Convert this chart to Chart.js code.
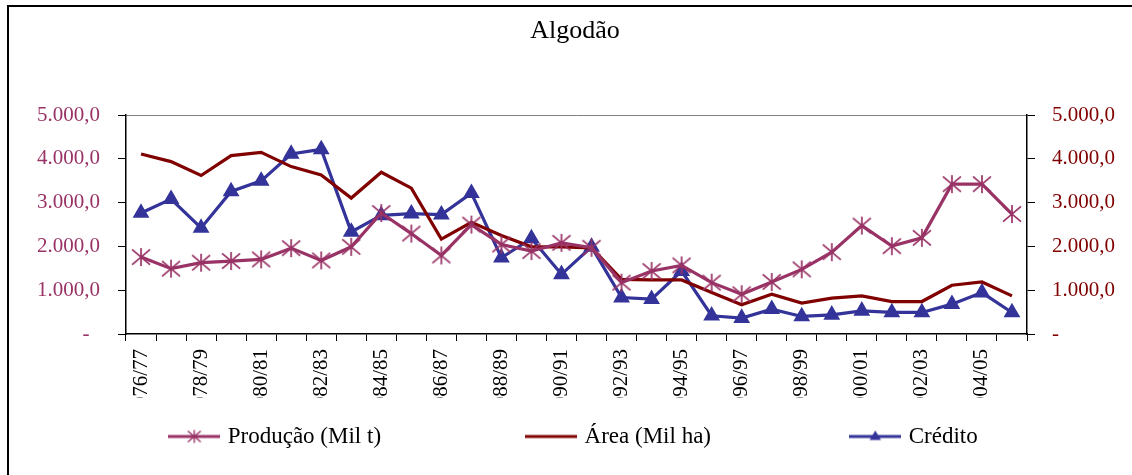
<!DOCTYPE html>
<html>
<head>
<meta charset="utf-8">
<title>Algodão</title>
<script src="https://cdn.jsdelivr.net/npm/chart.js@4.4.1/dist/chart.umd.min.js"></script>
<style>
  html, body { margin: 0; padding: 0; background: #fff; }
  #wrap { position: relative; width: 1132px; height: 475px; }
  #frame { position: absolute; left: 7px; top: 5px; right: 0; bottom: 0;
           border-left: 2px solid #000; border-top: 2px solid #000; pointer-events: none; }
</style>
</head>
<body>
<div id="wrap">
  <canvas id="chart" width="1132" height="475"></canvas>
  <div id="frame"></div>
</div>
<script>
// safras 1976/77 .. 2005/06
const safras = ['1976/77', '1977/78', '1978/79', '1979/80', '1980/81', '1981/82', '1982/83', '1983/84',
    '1984/85', '1985/86', '1986/87', '1987/88', '1988/89', '1989/90', '1990/91', '1991/92', '1992/93',
    '1993/94', '1994/95', '1995/96', '1996/97', '1997/98', '1998/99', '1999/00', '2000/01', '2001/02',
    '2002/03', '2003/04', '2004/05', '2005/06'];

const producao = [1757, 1493, 1629, 1667, 1705, 1962, 1682, 1992, 2765, 2295, 1795, 2500, 2045, 1894, 2083,
    1970, 1174, 1439, 1568, 1174, 909, 1189, 1477, 1871, 2477, 2008, 2197, 3424, 3424, 2742];
const area = [4114, 3939, 3621, 4076, 4151, 3826, 3636, 3106, 3697, 3333, 2170, 2553, 2250, 1992, 1992,
    1970, 1250, 1235, 1235, 947, 667, 909, 705, 818, 871, 742, 742, 1114, 1189, 871];
const credito = [2765, 3083, 2424, 3258, 3500, 4114, 4220, 2333, 2712, 2750, 2727, 3220, 1742, 2182, 1364,
    1992, 833, 795, 1439, 417, 364, 568, 401, 439, 530, 492, 492, 682, 947, 492];

const yTicks = [0, 1000, 2000, 3000, 4000, 5000];

const corProd = '#993366';
const corArea = '#800000';
const corCred = '#333399';
const serif = '"Liberation Serif", "Times New Roman", serif';

Chart.defaults.font.family = serif;
Chart.defaults.color = '#000';

// 5000 -> "5.000,0", 0 -> "-"
function fmt(v, left) {
    if (v === 0) return left ? '-  ' : '-';
    return v.toFixed(1).replace('.', ',').replace(/\B(?=(\d{3})+(?!\d))/g, '.');
}

function drawStar(g, cx, cy, r, color, lw) {
    g.strokeStyle = color;
    g.lineWidth = lw;
    g.beginPath();
    g.moveTo(cx - r, cy - r * 0.85); g.lineTo(cx + r, cy + r * 0.85);
    g.moveTo(cx + r, cy - r * 0.85); g.lineTo(cx - r, cy + r * 0.85);
    g.moveTo(cx, cy - r); g.lineTo(cx, cy + r);
    g.stroke();
}

function drawTri(g, cx, cy, r, color) {
    g.fillStyle = color;
    g.beginPath();
    g.moveTo(cx, cy - r);
    g.lineTo(cx + r * 0.95, cy + r * 0.6);
    g.lineTo(cx - r * 0.95, cy + r * 0.6);
    g.closePath();
    g.fill();
}

// asterisco do Excel (X + traço vertical)
const starPoint = document.createElement('canvas');
starPoint.width = starPoint.height = 22;
drawStar(starPoint.getContext('2d'), 11, 11, 9, corProd, 1.7);

function legendIcon(color, marker) {
    const c = document.createElement('canvas');
    c.width = 52; c.height = 22;
    const g = c.getContext('2d');
    g.strokeStyle = color;
    g.lineWidth = 3;
    g.beginPath(); g.moveTo(0, 11); g.lineTo(52, 11); g.stroke();
    if (marker === 'star') drawStar(g, 26, 11, 6.5, color, 1.4);
    if (marker === 'tri') drawTri(g, 26, 11, 6, color);
    return c;
}
const icons = [legendIcon(corProd, 'star'), legendIcon(corArea), legendIcon(corCred, 'tri')];
const gaps = [' '.repeat(24), ' '.repeat(23), ''];

// corta os rótulos do eixo x como no original
const cutLabels = {
    id: 'cutLabels',
    beforeDatasetsDraw(chart) {
        const x = chart.scales.x, ctx = chart.ctx;
        const y0 = x.top + 64;
        ctx.save();
        ctx.fillStyle = '#fff';
        ctx.fillRect(0, y0, chart.width, chart.legend.top - y0);
        ctx.restore();
    }
};

new Chart(document.getElementById('chart'), {
    type: 'line',
    data: {
        labels: safras,
        datasets: [
            {
                label: 'Produção (Mil t)',
                data: producao,
                borderColor: corProd,
                backgroundColor: corProd,
                borderWidth: 3.2,
                pointStyle: starPoint,
                yAxisID: 'y'
            },
            {
                label: 'Área (Mil ha)',
                data: area,
                borderColor: corArea,
                backgroundColor: corArea,
                borderWidth: 3.2,
                pointRadius: 0,
                yAxisID: 'y1'
            },
            {
                label: 'Crédito',
                data: credito,
                borderColor: corCred,
                backgroundColor: corCred,
                borderWidth: 3.2,
                pointStyle: 'triangle',
                pointRadius: 6.5,
                yAxisID: 'y'
            }
        ]
    },
    options: {
        responsive: false,
        animation: false,
        events: [],
        layout: { padding: { left: 18, right: 0, top: 0, bottom: 17 } },
        elements: { line: { tension: 0 } },
        plugins: {
            title: {
                display: true,
                text: 'Algodão',
                color: '#000',
                font: { size: 26, weight: 'normal' },
                padding: { top: 16, bottom: 68 }
            },
            legend: {
                position: 'bottom',
                labels: {
                    usePointStyle: true,
                    pointStyleWidth: 44,
                    padding: 10,
                    color: '#000',
                    font: { size: 23 },
                    generateLabels: chart => chart.data.datasets.map((ds, i) => ({
                        text: ds.label + gaps[i],
                        pointStyle: icons[i],
                        fillStyle: ds.borderColor,
                        strokeStyle: ds.borderColor,
                        lineWidth: 0,
                        hidden: false,
                        datasetIndex: i,
                        fontColor: '#000'
                    }))
                }
            },
            tooltip: { enabled: false }
        },
        scales: {
            x: {
                offset: true,
                border: { color: '#000', width: 1.5 },
                grid: { offset: true, drawOnChartArea: false, tickLength: 7, tickColor: '#000' },
                ticks: {
                    autoSkip: false,
                    minRotation: 90,
                    maxRotation: 90,
                    padding: 8,
                    color: '#000',
                    font: { size: 21 },
                    callback: function (value, index) {
                        return index % 2 === 0 ? this.getLabelForValue(value) : '';
                    }
                },
                afterFit: s => { s.height = 81; }
            },
            y: {
                position: 'left',
                min: 0,
                max: 5000,
                border: { color: '#000', width: 1.5 },
                grid: {
                    drawOnChartArea: true,
                    color: c => (c.tick && c.tick.value === 5000 ? '#808080' : 'rgba(0,0,0,0)'),
                    tickColor: '#000',
                    tickLength: 8
                },
                afterBuildTicks: s => { s.ticks = yTicks.map(v => ({ value: v })); },
                ticks: {
                    padding: 18,
                    color: corProd,
                    font: { size: 21 },
                    callback: v => fmt(v, true)
                },
                afterFit: s => { s.width = 108; }
            },
            y1: {
                position: 'right',
                min: 0,
                max: 5000,
                border: { color: '#000', width: 1.5 },
                grid: { drawOnChartArea: false, tickColor: '#000', tickLength: 8 },
                afterBuildTicks: s => { s.ticks = yTicks.map(v => ({ value: v })); },
                ticks: {
                    padding: 17,
                    color: corArea,
                    font: { size: 21 },
                    callback: v => fmt(v, false)
                },
                afterFit: s => { s.width = 105; }
            }
        }
    },
    plugins: [cutLabels]
});
</script>
</body>
</html>
